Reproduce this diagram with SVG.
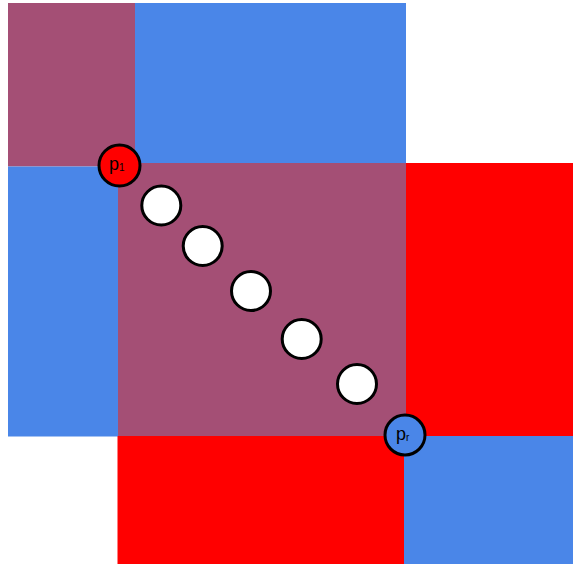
<svg xmlns="http://www.w3.org/2000/svg" width="573" height="564" viewBox="0 0 573 564">
<style>
.blue{fill:#4A86E8}
.red{fill:#FF0000}
.purple{fill:#A44F75}
.dot{fill:#FFFFFF;stroke:#000;stroke-width:3}
.pt{stroke:#000;stroke-width:3}
.lbl{font-family:"Liberation Sans",Arial,sans-serif;font-size:18px;fill:#000}
.sub{font-family:"Liberation Sans",Arial,sans-serif;font-size:10px;fill:#000}
</style>
<rect width="573" height="564" fill="#FFFFFF"/>
<g id="regions">
<rect class="purple" x="8" y="3" width="127" height="163.5"/>
<rect class="blue" x="135" y="3" width="271" height="160"/>
<rect class="blue" x="8" y="166.5" width="110" height="270"/>
<rect class="purple" x="118" y="163" width="288" height="273"/>
<rect class="red" x="406" y="163" width="167" height="273"/>
<rect class="red" x="117.5" y="436" width="286.5" height="128"/>
<rect class="blue" x="404" y="436" width="169" height="128"/>
</g>
<g id="dots">
<circle class="dot" cx="161.3" cy="205.5" r="19.5"/>
<circle class="dot" cx="202.7" cy="246" r="19.5"/>
<circle class="dot" cx="251" cy="291" r="19.5"/>
<circle class="dot" cx="301.7" cy="339" r="19.5"/>
<circle class="dot" cx="357" cy="384" r="19.5"/>
</g>
<g id="p1">
<circle class="pt" cx="119.5" cy="165.5" r="20.5" fill="#FF0000"/>
<text class="lbl" x="109" y="170">p<tspan class="sub" dy="1">1</tspan></text>
</g>
<g id="pr">
<circle class="pt" cx="405" cy="435" r="20" fill="#4A86E8"/>
<text class="lbl" x="396" y="440">p<tspan class="sub" dy="1">r</tspan></text>
</g>
</svg>
